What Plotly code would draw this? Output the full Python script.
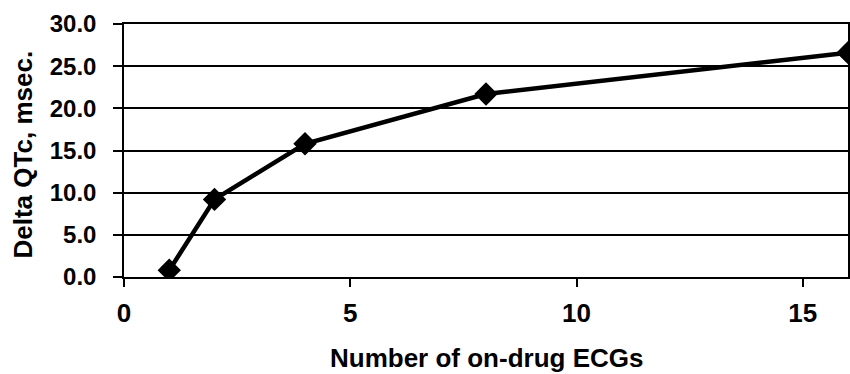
import plotly.graph_objects as go

n_ecgs = [1, 2, 4, 8, 16]
delta_qtc = [0.8, 9.2, 15.8, 21.7, 26.6]
y_ticks = [0, 5, 10, 15, 20, 25, 30]
y_tick_labels = ["0.0", "5.0", "10.0", "15.0", "20.0", "25.0", "30.0"]
x_ticks = [0, 5, 10, 15]
x_title = "Number of on-drug ECGs"
y_title = "Delta QTc, msec."

FONT = "Liberation Sans, Arial, sans-serif"

fig = go.Figure()
fig.add_trace(go.Scatter(
    x=n_ecgs, y=delta_qtc, mode="lines+markers",
    line=dict(color="black", width=4.5),
    marker=dict(symbol="diamond", size=18, color="black"),
    showlegend=False,
))

fig.update_layout(
    width=850, height=374,
    margin=dict(l=124, r=2, t=24, b=97, autoexpand=False),
    paper_bgcolor="white", plot_bgcolor="white",
    font=dict(family=FONT, color="black"),
    annotations=[
        dict(text="<b>" + x_title + "</b>", xref="paper", yref="paper",
             x=0.5, y=0, xanchor="center", yanchor="middle", yshift=-81,
             showarrow=False, font=dict(family=FONT, size=26, color="black")),
        dict(text="<b>" + y_title + "</b>", xref="paper", yref="paper",
             x=0, y=0.5, xanchor="center", yanchor="middle", xshift=-102, yshift=-4,
             textangle=-90, showarrow=False, font=dict(family=FONT, size=26, color="black")),
    ],
)
fig.update_xaxes(
    range=[0, 16], tickvals=x_ticks, automargin=False,
    showgrid=False, zeroline=False,
    showline=True, linecolor="black", linewidth=1.5, mirror=True,
    ticks="outside", ticklen=8, tickwidth=1.5, tickcolor="black",
    ticklabelstandoff=4,
    tickfont=dict(family=FONT, size=26, weight="bold"),
)
fig.update_yaxes(
    range=[0, 30], tickvals=y_ticks, ticktext=y_tick_labels, automargin=False,
    showgrid=True, gridcolor="black", gridwidth=1.5, zeroline=False,
    showline=True, linecolor="black", linewidth=1.5, mirror=True,
    ticks="outside", ticklen=9, tickwidth=1.5, tickcolor="black",
    ticklabelstandoff=12,
    tickfont=dict(family=FONT, size=24, weight="bold"),
)

fig.write_html("out.html", config={"displayModeBar": False},
               post_script="document.body.style.margin='0';document.body.style.overflow='hidden';")
